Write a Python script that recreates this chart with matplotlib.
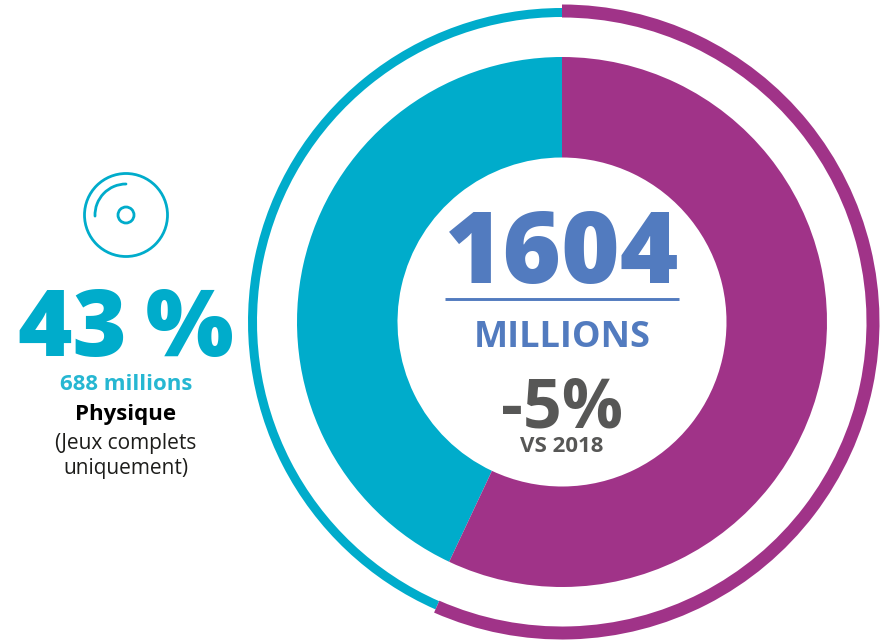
import matplotlib
matplotlib.use('Agg')
import matplotlib.pyplot as plt
from matplotlib.patches import Circle, Arc

# parts en %
segments = ['Physique', 'Dematerialise']
parts = [43, 57]
parts_ring = [43.4, 56.6]
colors = ['#00ACCB', '#A03388']

total_label = '1604'
unit_label = 'MILLIONS'
evol_label = '-5%'
evol_sub = 'VS 2018'
part_label = '43\u2009%'
part_sub = '688 millions'
part_name = 'Physique'
note_lines = ['(Jeux complets', 'uniquement)']

BLUE = '#527BBF'
GREY = '#575756'
TEAL = '#00ACCB'

plt.rcParams['font.family'] = ['Open Sans', 'DejaVu Sans']

fig = plt.figure(figsize=(8.8, 6.44), dpi=100)
ax = fig.add_axes([0, 0, 1, 1])

# everything placed in image pixels, y flipped
H = 644
cx, cy = 562, H - 322

ax.pie(parts, colors=colors, startangle=90, counterclock=True, radius=265,
       center=(cx, cy), wedgeprops=dict(width=100.5, linewidth=0))

# outer ring, teal part is thinner than purple
ax.pie(parts_ring, colors=[colors[0], 'none'], startangle=90, radius=314,
       center=(cx, cy), wedgeprops=dict(width=9, linewidth=0))
ax.pie(parts_ring, colors=['none', colors[1]], startangle=90, radius=317.5,
       center=(cx, cy), wedgeprops=dict(width=13, linewidth=0))

ax.set_xlim(0, 880)
ax.set_ylim(0, 644)
ax.set_aspect('equal')
ax.axis('off')

# center
ax.text(562, H - 283, total_label, color=BLUE, fontsize=72, fontweight=800,
        ha='center', va='baseline')
ax.plot([445, 679], [H - 298.5, H - 298.5], color=BLUE, lw=2.1, solid_capstyle='butt')
ax.text(562, H - 347, unit_label, color=BLUE, fontsize=26, fontweight='bold',
        ha='center', va='baseline')
ax.text(562, H - 427, evol_label, color=GREY, fontsize=49, fontweight='bold',
        ha='center', va='baseline')
ax.text(562, H - 452, evol_sub, color=GREY, fontsize=16, fontweight='bold',
        ha='center', va='baseline')

# disc icon
ic, jc = 126, H - 215
ax.add_patch(Circle((ic, jc), 41.5, fill=False, ec=TEAL, lw=2))
ax.add_patch(Circle((ic, jc), 8, fill=False, ec=TEAL, lw=2))
ax.add_patch(Arc((ic, jc), 62, 62, theta1=90, theta2=182, ec=TEAL, lw=2, capstyle='round'))

# left block
ax.text(126, H - 356, part_label, color=TEAL, fontsize=67, fontweight=800,
        ha='center', va='baseline')
ax.text(126, H - 390, part_sub, color='#26B7D2', fontsize=16, fontweight='bold',
        ha='center', va='baseline')
ax.text(126, H - 420, part_name, color='black', fontsize=16, fontweight='bold',
        ha='center', va='baseline')
ax.text(126, H - 449, note_lines[0], color='#1d1d1b', fontsize=15,
        ha='center', va='baseline')
ax.text(126, H - 474, note_lines[1], color='#1d1d1b', fontsize=15,
        ha='center', va='baseline')

fig.savefig('out.png', dpi=100)
